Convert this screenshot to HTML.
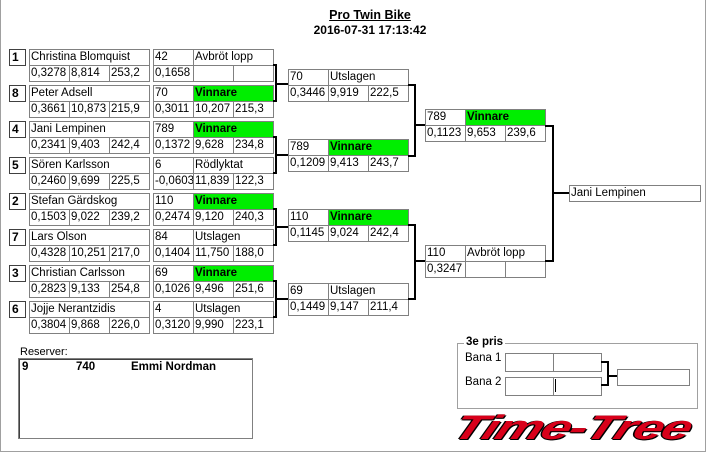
<!DOCTYPE html>
<html><head><meta charset="utf-8"><style>
body{margin:0;width:706px;height:452px;background:#fff;position:relative;overflow:hidden;font-family:"Liberation Sans",sans-serif;font-size:11.5px;color:#000}
div{position:absolute;box-sizing:border-box}
.c{border:1px solid #808080;height:17px;line-height:15px;padding-left:1px;white-space:nowrap;overflow:hidden;background:#fff}
.n{border:1px solid #404040;width:17px;height:17px;font-weight:bold;font-size:12px;line-height:15px;padding-left:2px}
.g{background:#00ee00;font-weight:bold}
.l{background:#000}
</style></head><body>
<div style="left:0;top:0;width:706px;height:452px;border:1px solid #a0a0a0;border-top:none"></div>
<div style="left:0;top:8px;width:740px;text-align:center;font-weight:bold;font-size:12.5px;text-decoration:underline">Pro Twin Bike</div>
<div style="left:0;top:23px;width:740px;text-align:center;font-weight:bold;font-size:12px">2016-07-31 17:13:42</div>

<div class="n" style="left:9px;top:49px">1</div><div class="c" style="left:29px;top:49px;width:121px">Christina Blomquist</div>
<div class="c" style="left:29px;top:65px;width:41px">0,3278</div><div class="c" style="left:69px;top:65px;width:41px">8,814</div><div class="c" style="left:109px;top:65px;width:41px">253,2</div>
<div class="n" style="left:9px;top:85px">8</div><div class="c" style="left:29px;top:85px;width:121px">Peter Adsell</div>
<div class="c" style="left:29px;top:101px;width:41px">0,3661</div><div class="c" style="left:69px;top:101px;width:41px">10,873</div><div class="c" style="left:109px;top:101px;width:41px">215,9</div>
<div class="n" style="left:9px;top:121px">4</div><div class="c" style="left:29px;top:121px;width:121px">Jani Lempinen</div>
<div class="c" style="left:29px;top:137px;width:41px">0,2341</div><div class="c" style="left:69px;top:137px;width:41px">9,403</div><div class="c" style="left:109px;top:137px;width:41px">242,4</div>
<div class="n" style="left:9px;top:157px">5</div><div class="c" style="left:29px;top:157px;width:121px">Sören Karlsson</div>
<div class="c" style="left:29px;top:173px;width:41px">0,2460</div><div class="c" style="left:69px;top:173px;width:41px">9,699</div><div class="c" style="left:109px;top:173px;width:41px">225,5</div>
<div class="n" style="left:9px;top:193px">2</div><div class="c" style="left:29px;top:193px;width:121px">Stefan Gärdskog</div>
<div class="c" style="left:29px;top:209px;width:41px">0,1503</div><div class="c" style="left:69px;top:209px;width:41px">9,022</div><div class="c" style="left:109px;top:209px;width:41px">239,2</div>
<div class="n" style="left:9px;top:229px">7</div><div class="c" style="left:29px;top:229px;width:121px">Lars Olson</div>
<div class="c" style="left:29px;top:245px;width:41px">0,4328</div><div class="c" style="left:69px;top:245px;width:41px">10,251</div><div class="c" style="left:109px;top:245px;width:41px">217,0</div>
<div class="n" style="left:9px;top:265px">3</div><div class="c" style="left:29px;top:265px;width:121px">Christian Carlsson</div>
<div class="c" style="left:29px;top:281px;width:41px">0,2823</div><div class="c" style="left:69px;top:281px;width:41px">9,133</div><div class="c" style="left:109px;top:281px;width:41px">254,8</div>
<div class="n" style="left:9px;top:301px">6</div><div class="c" style="left:29px;top:301px;width:121px">Jojje Nerantzidis</div>
<div class="c" style="left:29px;top:317px;width:41px">0,3804</div><div class="c" style="left:69px;top:317px;width:41px">9,868</div><div class="c" style="left:109px;top:317px;width:41px">226,0</div>

<div class="c" style="left:153px;top:49px;width:41px">42</div><div class="c" style="left:193px;top:49px;width:81px">Avbröt lopp</div>
<div class="c" style="left:153px;top:65px;width:41px">0,1658</div><div class="c" style="left:193px;top:65px;width:41px"></div><div class="c" style="left:233px;top:65px;width:41px"></div>
<div class="c" style="left:153px;top:85px;width:41px">70</div><div class="c g" style="left:193px;top:85px;width:81px">Vinnare</div>
<div class="c" style="left:153px;top:101px;width:41px">0,3011</div><div class="c" style="left:193px;top:101px;width:41px">10,207</div><div class="c" style="left:233px;top:101px;width:41px">215,3</div>
<div class="c" style="left:153px;top:121px;width:41px">789</div><div class="c g" style="left:193px;top:121px;width:81px">Vinnare</div>
<div class="c" style="left:153px;top:137px;width:41px">0,1372</div><div class="c" style="left:193px;top:137px;width:41px">9,628</div><div class="c" style="left:233px;top:137px;width:41px">234,8</div>
<div class="c" style="left:153px;top:157px;width:41px">6</div><div class="c" style="left:193px;top:157px;width:81px">Rödlyktat</div>
<div class="c" style="left:153px;top:173px;width:41px">-0,0603</div><div class="c" style="left:193px;top:173px;width:41px">11,839</div><div class="c" style="left:233px;top:173px;width:41px">122,3</div>
<div class="c" style="left:153px;top:193px;width:41px">110</div><div class="c g" style="left:193px;top:193px;width:81px">Vinnare</div>
<div class="c" style="left:153px;top:209px;width:41px">0,2474</div><div class="c" style="left:193px;top:209px;width:41px">9,120</div><div class="c" style="left:233px;top:209px;width:41px">240,3</div>
<div class="c" style="left:153px;top:229px;width:41px">84</div><div class="c" style="left:193px;top:229px;width:81px">Utslagen</div>
<div class="c" style="left:153px;top:245px;width:41px">0,1404</div><div class="c" style="left:193px;top:245px;width:41px">11,750</div><div class="c" style="left:233px;top:245px;width:41px">188,0</div>
<div class="c" style="left:153px;top:265px;width:41px">69</div><div class="c g" style="left:193px;top:265px;width:81px">Vinnare</div>
<div class="c" style="left:153px;top:281px;width:41px">0,1026</div><div class="c" style="left:193px;top:281px;width:41px">9,496</div><div class="c" style="left:233px;top:281px;width:41px">251,6</div>
<div class="c" style="left:153px;top:301px;width:41px">4</div><div class="c" style="left:193px;top:301px;width:81px">Utslagen</div>
<div class="c" style="left:153px;top:317px;width:41px">0,3120</div><div class="c" style="left:193px;top:317px;width:41px">9,990</div><div class="c" style="left:233px;top:317px;width:41px">223,1</div>

<div class="l" style="left:273px;top:64px;width:4px;height:2px"></div><div class="l" style="left:275px;top:64px;width:2px;height:38px"></div><div class="l" style="left:273px;top:100px;width:4px;height:2px"></div><div class="l" style="left:275px;top:83px;width:13px;height:2px"></div>
<div class="l" style="left:273px;top:136px;width:4px;height:2px"></div><div class="l" style="left:275px;top:136px;width:2px;height:38px"></div><div class="l" style="left:273px;top:172px;width:4px;height:2px"></div><div class="l" style="left:275px;top:154px;width:13px;height:2px"></div>
<div class="l" style="left:273px;top:208px;width:4px;height:2px"></div><div class="l" style="left:275px;top:208px;width:2px;height:38px"></div><div class="l" style="left:273px;top:244px;width:4px;height:2px"></div><div class="l" style="left:275px;top:226px;width:13px;height:2px"></div>
<div class="l" style="left:273px;top:280px;width:4px;height:2px"></div><div class="l" style="left:275px;top:280px;width:2px;height:38px"></div><div class="l" style="left:273px;top:316px;width:4px;height:2px"></div><div class="l" style="left:275px;top:298px;width:13px;height:2px"></div>

<div class="c" style="left:288px;top:69px;width:41px">70</div><div class="c" style="left:328px;top:69px;width:81px">Utslagen</div>
<div class="c" style="left:288px;top:85px;width:41px">0,3446</div><div class="c" style="left:328px;top:85px;width:41px">9,919</div><div class="c" style="left:368px;top:85px;width:41px">222,5</div>
<div class="c" style="left:288px;top:139px;width:41px">789</div><div class="c g" style="left:328px;top:139px;width:81px">Vinnare</div>
<div class="c" style="left:288px;top:155px;width:41px">0,1209</div><div class="c" style="left:328px;top:155px;width:41px">9,413</div><div class="c" style="left:368px;top:155px;width:41px">243,7</div>
<div class="c" style="left:288px;top:209px;width:41px">110</div><div class="c g" style="left:328px;top:209px;width:81px">Vinnare</div>
<div class="c" style="left:288px;top:225px;width:41px">0,1145</div><div class="c" style="left:328px;top:225px;width:41px">9,024</div><div class="c" style="left:368px;top:225px;width:41px">242,4</div>
<div class="c" style="left:288px;top:283px;width:41px">69</div><div class="c" style="left:328px;top:283px;width:81px">Utslagen</div>
<div class="c" style="left:288px;top:299px;width:41px">0,1449</div><div class="c" style="left:328px;top:299px;width:41px">9,147</div><div class="c" style="left:368px;top:299px;width:41px">211,4</div>

<div class="l" style="left:408px;top:84px;width:8px;height:2px"></div><div class="l" style="left:414px;top:84px;width:2px;height:73px"></div><div class="l" style="left:408px;top:155px;width:8px;height:2px"></div><div class="l" style="left:414px;top:124px;width:11px;height:2px"></div>
<div class="l" style="left:408px;top:224px;width:8px;height:2px"></div><div class="l" style="left:414px;top:224px;width:2px;height:76px"></div><div class="l" style="left:408px;top:298px;width:8px;height:2px"></div><div class="l" style="left:414px;top:260px;width:11px;height:2px"></div>

<div class="c" style="left:425px;top:109px;width:41px">789</div><div class="c g" style="left:465px;top:109px;width:81px">Vinnare</div>
<div class="c" style="left:425px;top:125px;width:41px">0,1123</div><div class="c" style="left:465px;top:125px;width:41px">9,653</div><div class="c" style="left:505px;top:125px;width:41px">239,6</div>
<div class="c" style="left:425px;top:245px;width:41px">110</div><div class="c" style="left:465px;top:245px;width:81px">Avbröt lopp</div>
<div class="c" style="left:425px;top:261px;width:41px">0,3247</div><div class="c" style="left:465px;top:261px;width:41px"></div><div class="c" style="left:505px;top:261px;width:41px"></div>

<div class="l" style="left:545px;top:125px;width:9px;height:2px"></div><div class="l" style="left:552px;top:125px;width:2px;height:137px"></div><div class="l" style="left:545px;top:260px;width:9px;height:2px"></div><div class="l" style="left:552px;top:192px;width:17px;height:2px"></div>
<div class="c" style="left:569px;top:185px;width:132px">Jani Lempinen</div>

<div style="left:20px;top:346px;font-size:11px">Reserver:</div>
<div style="left:18px;top:358px;width:235px;height:81px;border:1px solid #808080;box-shadow:inset 1px 1px 0 #404040"></div>
<div style="left:22px;top:361px;font-weight:bold;font-size:11.5px">9</div>
<div style="left:76px;top:361px;font-weight:bold;font-size:11.5px">740</div>
<div style="left:131px;top:361px;font-weight:bold;font-size:11.5px">Emmi Nordman</div>

<div style="left:457px;top:343px;width:241px;height:66px;border:1px solid #a0a0a0"></div>
<div style="left:464px;top:336px;background:#fff;padding:0 2px;font-weight:bold;font-size:11.5px">3e pris</div>
<div style="left:465px;top:352px;font-size:11.5px">Bana 1</div>
<div style="left:465px;top:376px;font-size:11.5px">Bana 2</div>
<div class="c" style="left:505px;top:353px;width:49px;height:19px"></div><div class="c" style="left:553px;top:353px;width:49px;height:19px"></div>
<div class="c" style="left:505px;top:377px;width:49px;height:19px"></div><div class="c" style="left:553px;top:377px;width:49px;height:19px"></div>
<div class="l" style="left:555px;top:379px;width:1px;height:13px"></div>
<div class="l" style="left:601px;top:361px;width:8px;height:2px"></div><div class="l" style="left:607px;top:361px;width:2px;height:25px"></div><div class="l" style="left:601px;top:384px;width:8px;height:2px"></div><div class="l" style="left:607px;top:375px;width:11px;height:2px"></div>
<div class="c" style="left:617px;top:369px;width:73px;height:17px"></div>

<div style="left:462px;top:410px;font-family:'Liberation Sans',sans-serif;font-weight:bold;font-style:italic;font-size:34px;letter-spacing:-1px;color:#d8001a;transform-origin:0 0;transform:scaleX(1.55) skewX(-15deg);text-shadow:1px 1px 0 #000,-1px 0 0 #000,0 1px 0 #000;line-height:36px;white-space:nowrap">Time-Tree</div>
</body></html>
